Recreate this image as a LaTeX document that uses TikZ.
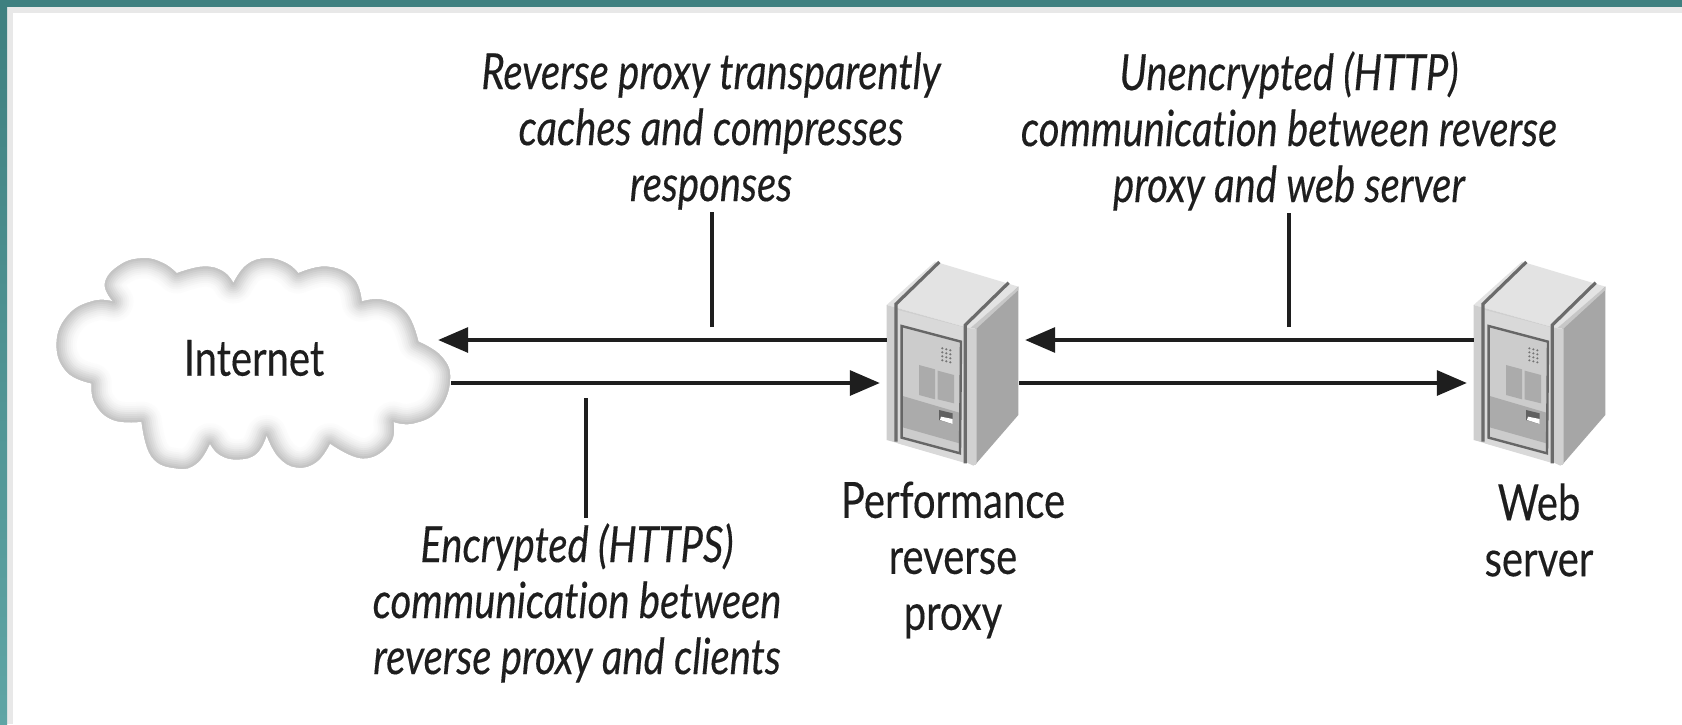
\documentclass[tikz,border=0pt]{standalone}
\usepackage{fontspec}
\setmainfont[FakeStretch=0.8,Ligatures=NoCommon,FakeBold=0.25]{Lato}
\usetikzlibrary{arrows.meta}
\definecolor{ink}{HTML}{1E1E1E}
\definecolor{tealA}{HTML}{3F8080}
\definecolor{tealB}{HTML}{5FA5A5}
\newcommand{\cloudshape}{
 (250,185) -- plot[smooth,tension=.75] coordinates {(250,185)(225,130)(270,75)(340,55)(400,70)(440,100)}
 -- plot[smooth,tension=.75] coordinates {(440,100)(520,80)(580,95)(610,130)}
 -- plot[smooth,tension=.75] coordinates {(610,130)(650,75)(710,55)(770,70)(805,100)}
 -- plot[smooth,tension=.75] coordinates {(805,100)(890,80)(970,115)(995,185)}
 -- plot[smooth,tension=.75] coordinates {(995,185)(1060,180)(1130,220)(1165,305)}
 -- plot[smooth,tension=.75] coordinates {(1165,305)(1235,350)(1260,420)(1225,510)(1150,550)(1090,545)}
 -- plot[smooth,tension=.75] coordinates {(1090,545)(1080,610)(1000,655)(900,610)}
 -- plot[smooth,tension=.75] coordinates {(900,610)(860,665)(800,682)(745,650)(710,585)}
 -- plot[smooth,tension=.75] coordinates {(710,585)(680,640)(625,658)(570,645)(540,610)}
 -- plot[smooth,tension=.75] coordinates {(540,610)(500,670)(440,685)(365,650)(335,545)}
 -- plot[smooth,tension=.75] coordinates {(335,545)(250,540)(195,490)(185,430)}
 -- plot[smooth,tension=.75] coordinates {(185,430)(110,395)(80,310)(115,225)(190,183)(250,185)}
 -- cycle}
\tikzset{
 x=1pt,y=-1pt,
 label text/.style={text=ink,align=center,inner sep=0pt,font=\fontsize{50}{56}\selectfont\itshape},
 name text/.style={text=ink,align=center,inner sep=0pt,font=\fontsize{50}{56}\selectfont},
 flow/.style={draw=ink,line width=3.2pt,-{Triangle[length=30pt,width=25pt]}},
 leader/.style={draw=ink,line width=3.2pt},
 anchorbox/.style={inner sep=0pt,minimum width=132pt,minimum height=240pt},
 pics/serverbox/.style={code={
  \begin{scope}[x=.3333pt,y=-.3333pt]
   \fill[black!11] (80,195)--(225,65)--(475,140)--(330,265)--cycle;
   \fill[black!19] (80,195)--(330,265)--(345,675)--(80,600)--cycle;
   \fill[black!35] (345,265)--(475,140)--(475,525)--(345,675)--cycle;
   \fill[black!22] (330,265)--(350,265)--(475,150)--(475,140)--cycle;
   \fill[black!18] (325,265)--(350,265)--(350,670)--(340,677)--(325,670)--cycle;
   \fill[black!15] (113,210)--(312,262)--(312,668)--(113,610)--cycle;
   \draw[black!58,line width=3.2pt] (108,605)--(108,192)--(238,66);
   \draw[black!58,line width=3.2pt] (316,670)--(316,255)--(446,128);
   \fill[black!20] (125,258)--(303,305)--(300,640)--(125,593)--cycle;
   \fill[black!33] (128,468)--(298,518)--(298,610)--(128,562)--cycle;
   \draw[black!60,line width=2.4pt] (125,258)--(303,305)--(300,640)--(125,593)--cycle;
   \fill[black!33] (177,375)--(225,388)--(225,478)--(177,465)--cycle;
   \fill[black!33] (233,392)--(282,405)--(282,490)--(233,478)--cycle;
   \fill[black!62] (237,510)--(278,520)--(278,552)--(237,540)--cycle;
   \fill[white] (243,530)--(278,537)--(278,552)--(240,540)--cycle;
   \foreach \i in {0,1,2}{\foreach \j in {0,1,2,3}{
     \fill[black!55] ({247+\i*12},{325+\i*3+\j*12}) circle (3.5);}}
  \end{scope}}}
}
\begin{document}
\begin{tikzpicture}
\useasboundingbox (0,0) rectangle (1682,724);
\fill[white] (0,0) rectangle (1682,724);
\fill[black!9] (7,7) rectangle (1682,13);
\fill[black!9] (7,7) rectangle (13,724);
\shade[top color=tealA,bottom color=tealB] (0,0) rectangle (7,724);
\fill[tealA] (0,0) rectangle (1682,7);
% cloud
\begin{scope}[shift={(30,240)},x=.3333pt,y=-.3333pt]
 \begin{scope}
  \clip \cloudshape;
  \fill[white] \cloudshape;
  \foreach \w/\g in {40/1,36/2,32/4,28/6,24/8,20/11,16/14,12/17,8/20,4/23}{
   \draw[black!\g,line width=\w pt,line join=round] \cloudshape;}
 \end{scope}
\end{scope}
\node[name text] (internet) at (254,358) {Internet};
\node[anchorbox] (cloudport) at (320,360) {};
% servers
\pic at (860,240) {serverbox};
\pic at (1447,240) {serverbox};
\node[anchorbox] (proxy) at (953,360) {};
\node[anchorbox] (web) at (1540,360) {};
% flows
\draw[flow] ([yshift=20pt]proxy.west) -- ([yshift=20pt,xshift=52pt]cloudport.east);
\draw[flow] ([yshift=-23pt,xshift=65pt]cloudport.east) -- ([yshift=-23pt,xshift=-7pt]proxy.west);
\draw[flow] ([yshift=20pt]web.west) -- ([yshift=20pt,xshift=6pt]proxy.east);
\draw[flow] ([yshift=-23pt]proxy.east) -- ([yshift=-23pt,xshift=-7pt]web.west);
% labels
\node[label text] (cachetext) at (711,131) {Reverse proxy transparently\\caches and compresses\\responses};
\node[label text] (plaintext) at (1289,131) {Unencrypted (HTTP)\\communication between reverse\\proxy and web server};
\node[label text] (tlstext) at (577,603) {Encrypted (HTTPS)\\communication between\\reverse proxy and clients};
\node[name text] (proxyname) at (953,560) {Performance\\reverse\\proxy};
\node[name text] (webname) at (1539,530) {Web\\server};
% leaders
\coordinate (cacheend) at (712,327);
\coordinate (plainend) at (1289,327);
\coordinate (tlsend) at (586,398);
\draw[leader] (cacheend) -- ([yshift=-2pt]cacheend |- cachetext.south);
\draw[leader] (plainend) -- ([yshift=-2pt]plainend |- plaintext.south);
\draw[leader] (tlsend) -- ([yshift=5pt]tlsend |- tlstext.north);
\end{tikzpicture}
\end{document}
